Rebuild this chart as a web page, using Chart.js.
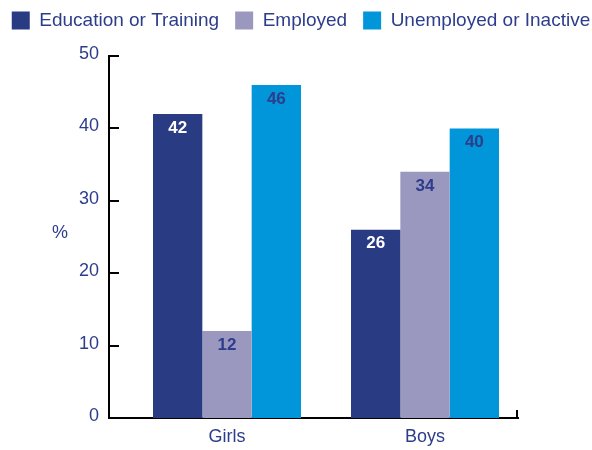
<!DOCTYPE html>
<html>
<head>
<meta charset="utf-8">
<script src="https://cdn.jsdelivr.net/npm/chart.js@4/dist/chart.umd.min.js"></script>
<style>
  html, body { margin: 0; padding: 0; background: #fff; }
  #wrap { width: 592px; height: 450px; }
</style>
</head>
<body>
<div id="wrap"><canvas id="c" width="592" height="450"></canvas></div>
<script>
const categories = ['Girls', 'Boys'];
const seriesNames = ['Education or Training', 'Employed', 'Unemployed or Inactive'];
const educationOrTraining = [42, 26];
const employed = [12, 34];
const unemployedOrInactive = [46, 40];
const yTickValues = [0, 10, 20, 30, 40, 50];
const yAxisTitle = '%';

const NAVY_TEXT = '#2d3d8b';
const COLORS = ['#293b83', '#9b98c0', '#0096d9'];
const LABEL_COLORS = ['#ffffff', NAVY_TEXT, NAVY_TEXT];
const FONT = "'Liberation Sans', Arial, Helvetica, sans-serif";

const PAD = { left: -6, right: -16, top: -5, bottom: 0 };

const seriesValues = [educationOrTraining, employed, unemployedOrInactive];

const datasets = seriesNames.map((name, i) => ({
  label: name,
  data: seriesValues[i].map((v, j) => ({ x: j, y: v })),
  backgroundColor: COLORS[i],
  borderWidth: 0,
  xAxisID: 'x',
  yAxisID: 'y',
  categoryPercentage: 0.7475,
  barPercentage: 1.0
}));

const decorPlugin = {
  id: 'decor',
  afterDatasetsDraw(chart) {
    const ctx = chart.ctx;
    ctx.save();
    ctx.font = 'bold 17px ' + FONT;
    ctx.textAlign = 'center';
    ctx.textBaseline = 'middle';
    chart.data.datasets.forEach((ds, i) => {
      const meta = chart.getDatasetMeta(i);
      meta.data.forEach((bar, j) => {
        ctx.fillStyle = LABEL_COLORS[i];
        ctx.fillText(String(ds.data[j].y), bar.x, bar.y + 14);
      });
    });
    ctx.restore();
  },
  afterDraw(chart) {
    const ctx = chart.ctx;
    const ys = chart.scales.y;
    const area = chart.chartArea;
    ctx.save();
    ctx.strokeStyle = '#000';
    ctx.lineWidth = 2;
    ctx.beginPath();
    ys.ticks.forEach(t => {
      const y = Math.round(ys.getPixelForValue(t.value));
      ctx.moveTo(area.left, y);
      ctx.lineTo(area.left + 10, y);
    });
    ctx.moveTo(area.right - 1, area.bottom + 1);
    ctx.lineTo(area.right - 1, area.bottom - 8);
    ctx.stroke();
    ctx.fillStyle = NAVY_TEXT;
    ctx.font = '18px ' + FONT;
    ctx.textAlign = 'center';
    ctx.textBaseline = 'middle';
    ctx.fillText(yAxisTitle, 60, (area.top + area.bottom) / 2 - 4);
    ctx.restore();
  }
};

new Chart(document.getElementById('c'), {
  type: 'bar',
  data: { datasets },
  options: {
    responsive: false,
    animation: false,
    devicePixelRatio: 1,
    layout: { padding: PAD },
    plugins: {
      legend: {
        position: 'top',
        labels: {
          boxWidth: 18,
          boxHeight: 18,
          padding: 16,
          color: NAVY_TEXT,
          font: { size: 19, family: FONT }
        }
      },
      tooltip: { enabled: false },
      title: { display: false }
    },
    scales: {
      x: {
        type: 'linear',
        position: 'bottom',
        offset: false,
        min: -0.596,
        max: 1.4697,
        grid: { display: false, drawTicks: false },
        border: { display: true, color: '#000', width: 2 },
        afterBuildTicks: s => { s.ticks = categories.map((c, i) => ({ value: i })); },
        afterFit: s => { s.height = 32; },
        ticks: {
          autoSkip: false,
          maxRotation: 0,
          padding: 8,
          color: NAVY_TEXT,
          font: { size: 18, family: FONT },
          callback: v => categories[v] !== undefined ? categories[v] : ''
        }
      },
      y: {
        type: 'linear',
        position: 'left',
        min: 0,
        max: 50,
        grid: { display: false, drawTicks: false },
        border: { display: true, color: '#000', width: 2 },
        afterBuildTicks: s => { s.ticks = yTickValues.map(v => ({ value: v })); },
        afterFit: s => { s.width = 109 - PAD.left; },
        ticks: {
          padding: 10,
          labelOffset: -2,
          color: NAVY_TEXT,
          font: { size: 18, family: FONT }
        }
      },
      xTop: {
        type: 'linear',
        position: 'top',
        display: true,
        grid: { display: false, drawTicks: false },
        border: { display: false },
        ticks: { display: false },
        afterFit: s => { s.height = Math.max(0, 56 - PAD.top - (s.chart.legend ? s.chart.legend.height : 45)); }
      },
      yRight: {
        type: 'linear',
        position: 'right',
        display: true,
        grid: { display: false, drawTicks: false },
        border: { display: false },
        ticks: { display: false },
        afterFit: s => { s.width = 74 - PAD.right; }
      }
    }
  },
  plugins: [decorPlugin]
});
</script>
</body>
</html>
